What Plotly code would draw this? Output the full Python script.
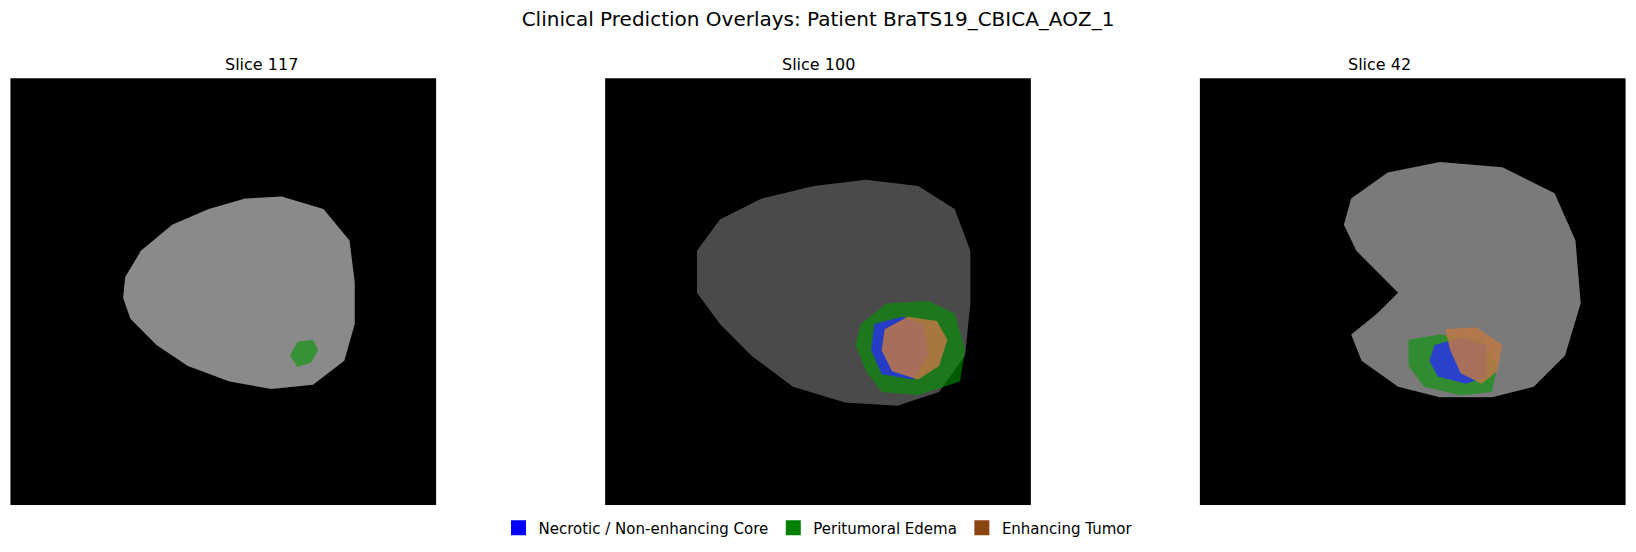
import plotly.graph_objects as go

# outlines, in panel pixels (panel 408px == 240 image units)
slice_titles = ["Slice 117", "Slice 100", "Slice 42"]
brain_x = [
    [110,125,155,190,225,260,300,325,330,330,320,290,250,210,170,140,115,108],
    [88,110,150,200,250,300,335,350,350,345,320,280,230,180,140,110,88],
    [145,180,230,290,340,360,365,350,320,280,230,190,155,145,170,190,170,150,138],
]
brain_y = [
    [190,165,140,125,115,113,125,155,195,235,270,293,297,290,275,255,230,210],
    [165,135,115,103,97,103,125,165,215,265,300,313,310,295,265,235,205],
    [115,90,80,85,110,155,215,265,295,305,305,295,270,245,225,205,185,165,140],
]
brain_gray = ["#8a8a8a", "#4a4a4a", "#7a7a7a"]

edema_x = [[275,290,295,288,275,268], [245,270,310,335,345,340,300,265,250,240], [200,230,270,285,280,250,215,200]]
edema_y = [[252,250,260,272,276,265], [235,215,213,225,260,290,303,300,280,255], [250,245,250,275,300,303,295,275]]
core_x = [[], [258,285,305,310,295,265,255], [225,250,275,275,255,228,220]]
core_y = [[], [235,228,235,265,288,283,260], [255,248,255,285,292,285,270]]
enh_x = [[], [268,290,318,328,320,300,275,265], [235,265,290,285,270,250,240]]
enh_y = [[], [240,228,232,250,275,288,280,260], [240,238,255,280,292,282,260]]

labels = ["Necrotic / Non-enhancing Core", "Peritumoral Edema", "Enhancing Tumor"]
solid = ["#0000ff", "#008000", "#8b4513"]
overlay = ["rgba(40,40,255,0.75)", "rgba(0,150,0,0.6)", "rgba(190,120,70,0.85)"]

W, H = 1568, 529
s = 240 / 408
fig = go.Figure()
doms = [(10, 418), (580, 988), (1150, 1558)]
for i in range(3):
    xa = "x" if i == 0 else f"x{i+1}"
    ya = "y" if i == 0 else f"y{i+1}"
    def add(xs, ys, col):
        if not xs:
            return
        fig.add_trace(go.Scatter(x=[v*s for v in xs]+[xs[0]*s], y=[v*s for v in ys]+[ys[0]*s],
                                 fill="toself", fillcolor=col, mode="lines", line=dict(width=0, color=col),
                                 showlegend=False, hoverinfo="skip", xaxis=xa, yaxis=ya))
    add(brain_x[i], brain_y[i], brain_gray[i])
    add(edema_x[i], edema_y[i], overlay[1])
    add(core_x[i], core_y[i], overlay[0])
    add(enh_x[i], enh_y[i], overlay[2])
    a, b = doms[i]
    k = "" if i == 0 else str(i+1)
    fig.layout["xaxis"+k] = dict(domain=[a/W, b/W], range=[0, 240], visible=False, anchor=ya)
    fig.layout["yaxis"+k] = dict(domain=[1-484/H, 1-75/H], range=[240, 0], visible=False, anchor=xa)
    fig.add_annotation(text=slice_titles[i], x=(a+b)/2/W, y=1-62/H, xref="paper", yref="paper",
                       yanchor="middle", showarrow=False, font=dict(size=16, color="black"))

for lab, c in zip(labels, solid):
    fig.add_trace(go.Scatter(x=[None], y=[None], mode="markers", name=lab,
                             marker=dict(symbol="square", size=15, color=c)))

fig.update_layout(
    autosize=True, margin=dict(l=0, r=0, t=0, b=0),
    paper_bgcolor="white", plot_bgcolor="black",
    font=dict(family="DejaVu Sans", color="black"),
    title=dict(text="Clinical Prediction Overlays: Patient BraTS19_CBICA_AOZ_1", x=0.5, xanchor="center",
               y=1-18/H, yanchor="middle", font=dict(size=20)),
    legend=dict(orientation="h", x=0.5, xanchor="center", y=1-506/H, yanchor="middle",
                font=dict(size=15)),
)
html = fig.to_html(full_html=True, default_width="100vw", default_height="100vh",
                   config={"displayModeBar": False})
html = html.replace("<head>", "<head><style>html,body{margin:0;padding:0;overflow:hidden}</style>", 1)
with open("out.html", "w") as f:
    f.write(html)
